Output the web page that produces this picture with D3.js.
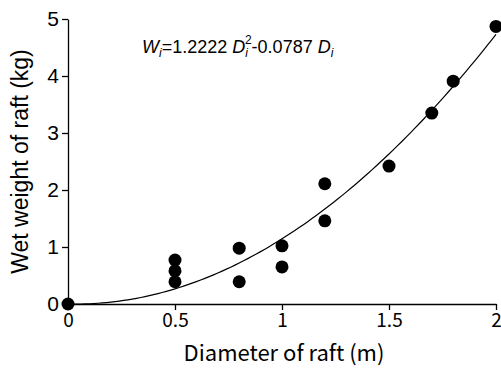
<!DOCTYPE html>
<html>
<head>
<meta charset="utf-8">
<script src="https://cdn.jsdelivr.net/npm/d3@7"></script>
<style>
  body { margin: 0; background: #fff; }
  svg { display: block; }
</style>
</head>
<body>
<div id="chart"></div>
<script>
// data
const diameters = [0, 0.5, 0.5, 0.5, 0.8, 0.8, 1.0, 1.0, 1.2, 1.2, 1.5, 1.7, 1.8, 2.0];
const weights   = [0, 0.77, 0.58, 0.39, 0.98, 0.39, 1.02, 0.65, 1.46, 2.11, 2.42, 3.35, 3.91, 4.87];
const xTicks = [0, 0.5, 1, 1.5, 2];
const yTicks = [0, 1, 2, 3, 4, 5];
const coefA = 1.2222, coefB = -0.0787;
const curveXs = d3.range(0, 2.0001, 0.02);

const width = 501, height = 368;
const margin = {top: 19, right: 5, bottom: 64, left: 68};

const svg = d3.select("#chart").append("svg")
  .attr("width", width)
  .attr("height", height);

const x = d3.scaleLinear().domain([0, 2]).range([margin.left, width - margin.right]);
const y = d3.scaleLinear().domain([0, 5]).range([height - margin.bottom, margin.top]);

// x axis
const xAxis = svg.append("g")
  .attr("transform", `translate(0,${y(0)})`)
  .call(d3.axisBottom(x).tickValues(xTicks).tickFormat(d3.format("")).tickSize(6).tickPadding(4).tickSizeOuter(0));
xAxis.select(".domain").attr("stroke-width", 1.3);
xAxis.selectAll(".tick line").attr("stroke-width", 1.3);
xAxis.selectAll("text")
  .attr("font-family", "'Noto Sans CJK JP', sans-serif")
  .attr("font-size", 19)
  .attr("fill", "#000");

// y axis
const yAxis = svg.append("g")
  .attr("transform", `translate(${x(0)},0)`)
  .call(d3.axisLeft(y).tickValues(yTicks).tickFormat(d3.format("d")).tickSize(6).tickPadding(3).tickSizeOuter(0));
yAxis.select(".domain").attr("stroke-width", 1.3);
yAxis.selectAll(".tick line").attr("stroke-width", 1.3);
yAxis.selectAll("text")
  .attr("font-family", "'Liberation Sans', Arial, sans-serif")
  .attr("font-size", 21)
  .attr("fill", "#000");

// fitted curve
const line = d3.line()
  .x(d => x(d))
  .y(d => y(coefA * d * d + coefB * d));
svg.append("path")
  .datum(curveXs)
  .attr("d", line)
  .attr("fill", "none")
  .attr("stroke", "#000")
  .attr("stroke-width", 1.2);

// points
svg.append("g")
  .selectAll("circle")
  .data(diameters.map((d, i) => [d, weights[i]]))
  .join("circle")
  .attr("cx", d => x(d[0]))
  .attr("cy", d => y(d[1]))
  .attr("r", 6.5)
  .attr("fill", "#000");

// axis titles
svg.append("text")
  .attr("x", 284)
  .attr("y", 361)
  .attr("text-anchor", "middle")
  .attr("font-family", "'Noto Sans CJK JP', sans-serif")
  .attr("font-size", 22)
  .text("Diameter of raft (m)");

svg.append("text")
  .attr("transform", `translate(28,${(y(0) + y(5)) / 2}) rotate(-90)`)
  .attr("text-anchor", "middle")
  .attr("font-family", "'Liberation Sans', Arial, sans-serif")
  .attr("font-size", 23)
  .text("Wet weight of raft (kg)");

// equation
const eq = svg.append("text")
  .attr("x", 142)
  .attr("y", 53)
  .attr("font-family", "'Liberation Sans', Arial, sans-serif")
  .attr("font-size", 18);
eq.append("tspan").attr("font-style", "italic").text("W");
eq.append("tspan").attr("font-style", "italic").attr("font-size", 12).attr("dy", 4).text("i");
eq.append("tspan").attr("dy", -4).text("=1.2222 ");
eq.append("tspan").attr("font-style", "italic").text("D");
eq.append("tspan").attr("font-style", "italic").attr("font-size", 12).attr("dy", 4).text("i");
eq.append("tspan").attr("font-size", 12).attr("dx", -3).attr("dy", -13).text("2");
eq.append("tspan").attr("dy", 9).text("-0.0787 ");
eq.append("tspan").attr("font-style", "italic").text("D");
eq.append("tspan").attr("font-style", "italic").attr("font-size", 12).attr("dy", 4).text("i");
</script>
</body>
</html>
